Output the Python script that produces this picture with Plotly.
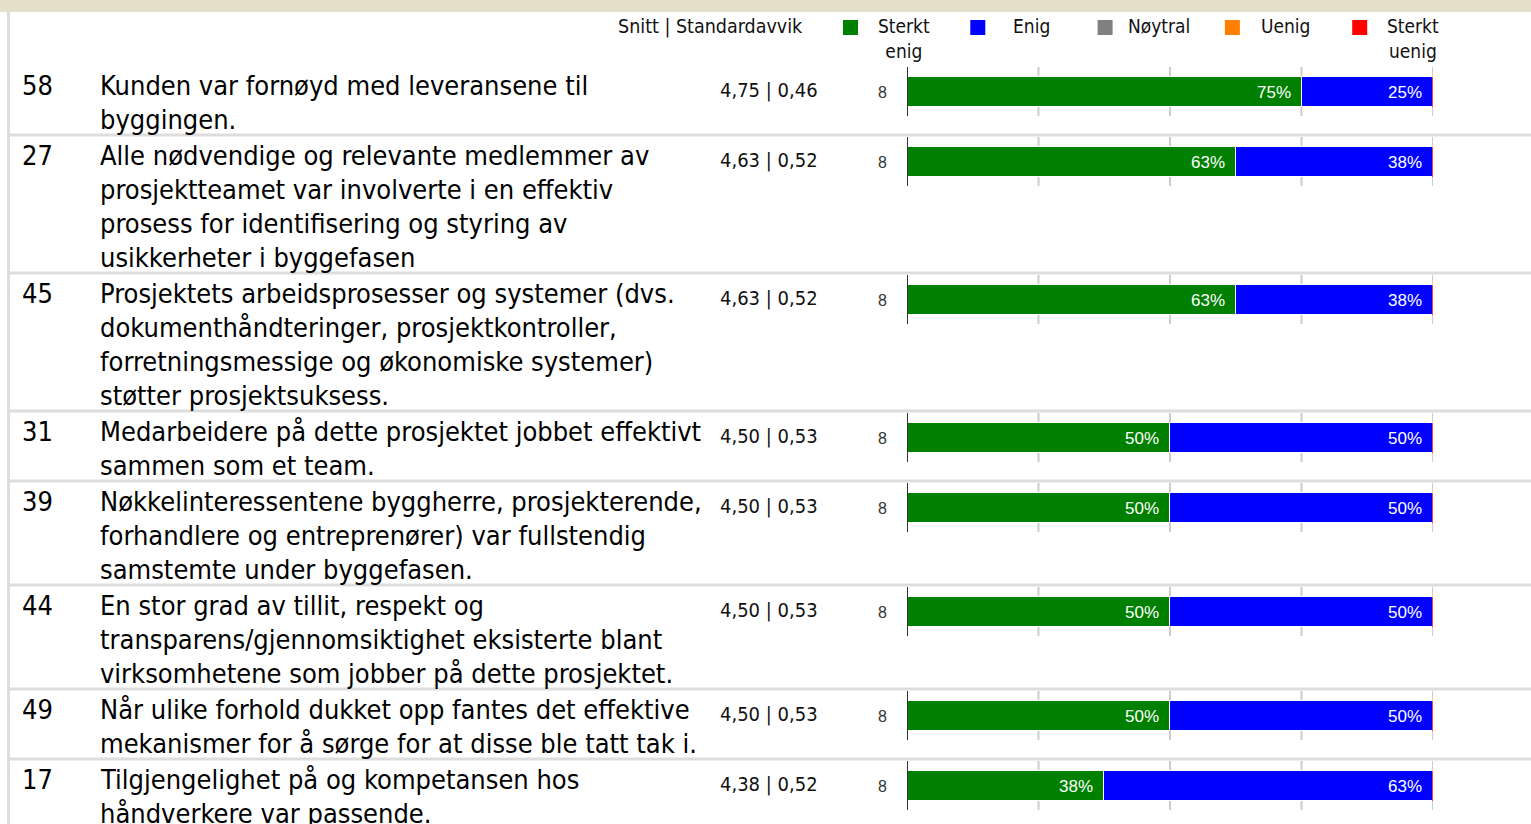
import plotly.graph_objects as go

# ---------------- data ----------------
question_ids = ["58", "27", "45", "31", "39", "44", "49", "17"]
question_lines = [
    ["Kunden var fornøyd med leveransene til", "byggingen."],
    ["Alle nødvendige og relevante medlemmer av", "prosjektteamet var involverte i en effektiv",
     "prosess for identifisering og styring av", "usikkerheter i byggefasen"],
    ["Prosjektets arbeidsprosesser og systemer (dvs.", "dokumenthåndteringer, prosjektkontroller,",
     "forretningsmessige og økonomiske systemer)", "støtter prosjektsuksess."],
    ["Medarbeidere på dette prosjektet jobbet effektivt", "sammen som et team."],
    ["Nøkkelinteressentene byggherre, prosjekterende,", "forhandlere og entreprenører) var fullstendig",
     "samstemte under byggefasen."],
    ["En stor grad av tillit, respekt og", "transparens/gjennomsiktighet eksisterte blant",
     "virksomhetene som jobber på dette prosjektet."],
    ["Når ulike forhold dukket opp fantes det effektive", "mekanismer for å sørge for at disse ble tatt tak i."],
    ["Tilgjengelighet på og kompetansen hos", "håndverkere var passende."],
]
mean_sd = ["4,75 | 0,46", "4,63 | 0,52", "4,63 | 0,52", "4,50 | 0,53",
           "4,50 | 0,53", "4,50 | 0,53", "4,50 | 0,53", "4,38 | 0,52"]
n_resp = [8, 8, 8, 8, 8, 8, 8, 8]

series_names = ["Sterkt<br>enig", "Enig", "Nøytral", "Uenig", "Sterkt<br>uenig"]
sterkt_enig = [75, 62.5, 62.5, 50, 50, 50, 50, 37.5]
enig = [25, 37.5, 37.5, 50, 50, 50, 50, 62.5]
noytral = [0, 0, 0, 0, 0, 0, 0, 0]
uenig = [0, 0, 0, 0, 0, 0, 0, 0]
sterkt_uenig = [0, 0, 0, 0, 0, 0, 0, 0]
series_values = [sterkt_enig, enig, noytral, uenig, sterkt_uenig]
series_colors = ["#008000", "#0000ff", "#808080", "#ff8000", "#ff0000"]
grid_ticks = [0, 25, 50, 75, 100]

# ---------------- layout constants (pixels) ----------------
W, H = 1531, 824
LINE = 34
FIRST_TOP = 65
X0_PX, X1_PX = 907, 1433
TEXT_FONT = "Tahoma, 'DejaVu Sans Condensed', 'DejaVu Sans', sans-serif"
BAR_FONT = "Arial, 'Liberation Sans', sans-serif"

def px(x):
    return x / W

# row tops from number of text lines
row_tops = []
t = FIRST_TOP
for lines in question_lines:
    row_tops.append(t)
    t += LINE * len(lines) + 2
row_tops.append(t)
bar_centers = [rt + 27 for rt in row_tops[:-1]]

fig = go.Figure()
for name, vals, col in zip(series_names, series_values, series_colors):
    fig.add_trace(go.Bar(
        x=vals, y=bar_centers, orientation="h", width=30, name=name.replace("<br>", " "),
        marker=dict(color=col, line=dict(color="white", width=1)),
        showlegend=False, hoverinfo="x+name",
    ))

shapes = []
annotations = []

# top band
shapes.append(dict(type="rect", xref="paper", yref="y", x0=0, x1=1, y0=0, y1=12,
                   fillcolor="#e6dfc9", line=dict(width=0), layer="below"))
# left border
shapes.append(dict(type="line", xref="paper", yref="y", x0=px(8.5), x1=px(8.5), y0=12, y1=H,
                   line=dict(color="#dddddd", width=3), layer="below"))

# header
annotations.append(dict(text="Snitt | Standardavvik", xref="paper", yref="y", x=px(616), y=26,
                        xanchor="left", yanchor="middle", showarrow=False,
                        font=dict(family=TEXT_FONT, size=19.5, color="#111")))
# legend
for i, (name, col) in enumerate(zip(series_names, series_colors)):
    sx = 843 + i * 127.3
    shapes.append(dict(type="rect", xref="paper", yref="y", x0=px(sx), x1=px(sx + 15), y0=20, y1=35,
                       fillcolor=col, line=dict(width=0)))
    annotations.append(dict(text=name, xref="paper", yref="y", x=px(sx + 61), y=13,
                            xanchor="center", yanchor="top", align="center", showarrow=False,
                            font=dict(family=TEXT_FONT, size=19, color="#111")))

for r in range(len(question_ids)):
    top = row_tops[r]
    bc = bar_centers[r]
    # row separator
    if r > 0:
        shapes.append(dict(type="line", xref="paper", yref="y", x0=px(8), x1=1, y0=top, y1=top,
                           line=dict(color="#dddddd", width=3), layer="below"))
    # id
    annotations.append(dict(text=question_ids[r], xref="paper", yref="y", x=px(20), y=top + 20,
                            xanchor="left", yanchor="middle", showarrow=False,
                            font=dict(family=TEXT_FONT, size=27, color="#000")))
    for k, line in enumerate(question_lines[r]):
        annotations.append(dict(text=line, xref="paper", yref="y", x=px(98), y=top + 20 + LINE * k,
                                xanchor="left", yanchor="middle", showarrow=False,
                                font=dict(family=TEXT_FONT, size=27, color="#000")))
    annotations.append(dict(text=mean_sd[r], xref="paper", yref="y", x=px(718), y=top + 25,
                            xanchor="left", yanchor="middle", showarrow=False,
                            font=dict(family=TEXT_FONT, size=20, color="#111")))
    annotations.append(dict(text=str(n_resp[r]), xref="paper", yref="y", x=px(882), y=bc,
                            xanchor="center", yanchor="middle", showarrow=False,
                            font=dict(family=BAR_FONT, size=16, color="#333")))
    # gridlines
    for g in grid_ticks:
        shapes.append(dict(type="line", xref="x", yref="y", x0=g, x1=g, y0=top + 2, y1=top + 51,
                           line=dict(color="#333333" if g == 0 else "#cccccc", width=2),
                           layer="above" if g == 0 else "below"))
    # percentage labels
    cum = 0
    for vals in series_values:
        v = vals[r]
        cum += v
        if v > 0:
            annotations.append(dict(text=f"{v:.0f}%" if v != 62.5 and v != 37.5 else f"{v + 0.5:.0f}%",
                                    xref="x", yref="y", x=cum, y=bc, xshift=-9,
                                    xanchor="right", yanchor="middle", showarrow=False,
                                    font=dict(family=BAR_FONT, size=17, color="white")))
    # end marker (zero-width Sterkt uenig segment)
    total = sum(vals[r] for vals in series_values)
    shapes.append(dict(type="line", xref="x", yref="y", x0=total, x1=total, y0=bc - 15, y1=bc + 15,
                       line=dict(color="#ff0000", width=1.5), layer="above"))

# bottom separator for the last row
shapes.append(dict(type="line", xref="paper", yref="y", x0=px(8), x1=1, y0=row_tops[-1], y1=row_tops[-1],
                   line=dict(color="#dddddd", width=3), layer="below"))

fig.update_layout(
    width=W, height=H, margin=dict(l=0, r=0, t=0, b=0),
    paper_bgcolor="white", plot_bgcolor="rgba(0,0,0,0)",
    barmode="stack", bargap=0,
    xaxis=dict(domain=[px(X0_PX), px(X1_PX)], range=[0, 100], visible=False, fixedrange=True),
    yaxis=dict(domain=[0, 1], range=[H, 0], visible=False, fixedrange=True),
    shapes=shapes, annotations=annotations, showlegend=False,
)

fig.write_html("out.html", config={"displayModeBar": False},
               post_script="document.body.style.margin='0';document.body.style.overflow='hidden';")
